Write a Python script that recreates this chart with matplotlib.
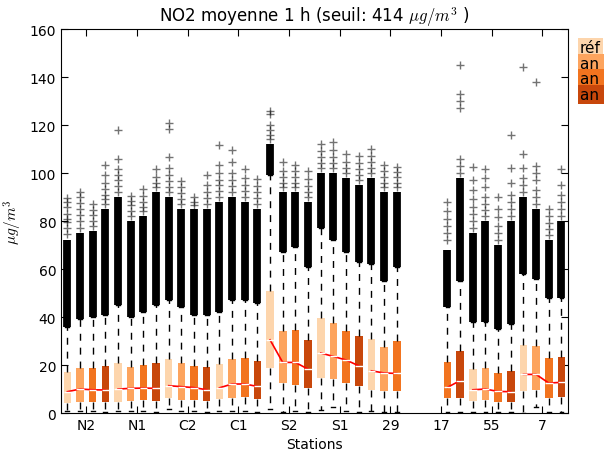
import matplotlib
matplotlib.use("Agg")
import matplotlib.pyplot as plt

plt.rcParams['font.family'] = ['DejaVu Sans']
plt.rcParams['mathtext.fontset'] = 'cm'

stations = ['N2', 'N1', 'C2', 'C1', 'S2', 'S1', '29', '17', '55', '7']
series = ['réf', 'an 1', 'an 2', 'an 3']
colors = ['#fdd5ac', '#fda45e', '#f2741f', '#c8470b']

# box statistics per series (µg/m³), None where no data
q1_ref = [4.2, 4.4, 6.1, 5.8, 18.6, 14.4, 9.7, None, 5.1, 9.0]
q1_an1 = [4.7, 5.0, 5.6, 6.1, 12.4, 14.2, 9.3, None, 5.4, 9.4]
q1_an2 = [4.4, 5.3, 5.4, 6.5, 11.8, 12.4, 9.3, 6.1, 4.7, 6.3]
q1_an3 = [4.7, 5.0, 5.1, 5.8, 10.3, 11.1, None, 6.1, 4.4, 6.5]

med_ref = [8.9, 10.0, 11.4, 10.5, 30.5, 25.0, 17.6, None, 9.7, 16.1]
med_an1 = [10.0, 10.3, 11.0, 12.1, 21.1, 23.6, 16.7, None, 10.0, 16.1]
med_an2 = [9.7, 10.4, 10.6, 12.1, 21.1, 22.1, 16.5, 10.7, 9.0, 12.5]
med_an3 = [9.6, 10.3, 9.7, 11.1, 18.3, 19.7, None, 13.5, 8.9, 12.8]

q3_ref = [17.2, 20.7, 22.4, 20.4, 50.7, 39.4, 30.8, None, 18.2, 28.5]
q3_an1 = [18.6, 19.3, 21.0, 22.4, 34.3, 37.4, 27.4, None, 18.6, 28.1]
q3_an2 = [18.6, 20.0, 19.7, 22.8, 34.6, 34.3, 29.9, 21.1, 16.8, 22.9]
q3_an3 = [19.4, 21.0, 19.3, 21.8, 30.5, 32.0, None, 25.7, 17.5, 23.3]

lo_ref = [1.0, 1.0, 1.5, 1.0, 1.7, 1.4, 1.0, None, 0.5, 0.0]
lo_an1 = [1.0, 1.0, 1.0, 1.0, 0.5, 2.5, 0.5, None, 0.5, 2.4]
lo_an2 = [1.0, 1.0, 1.0, 1.0, 1.0, 1.0, 0.5, 0.5, 0.5, 0.5]
lo_an3 = [0.5, 0.5, 0.5, 0.5, 0.5, 0.5, None, 0.5, 0.5, 0.5]

hi_ref = [36, 45, 47, 42, 99, 77, 62, None, 38, 58]
hi_an1 = [39, 40, 44, 47, 67, 72, 55, None, 38, 56]
hi_an2 = [40, 42, 41, 47, 69, 67, 61, 44, 35, 48]
hi_an3 = [41, 45, 41, 46, 61, 63, None, 55, 37, 48]

# top of the continuous run of outliers above each whisker
dense_ref = [72, 90, 90, 88, 112, 100, 98, None, 75, 90]
dense_an1 = [75, 80, 85, 90, 92, 100, 92, None, 80, 85]
dense_an2 = [76, 82, 85, 88, 92, 98, 92, 68, 70, 72]
dense_an3 = [85, 92, 85, 85, 88, 95, None, 98, 80, 80]

# isolated outliers above the continuous run
out_ref = [[74.5, 77, 79.5, 81, 83, 86, 88, 89.5],
           [92, 94.5, 97, 99, 101.5, 106, 118],
           [92, 94, 96.5, 99, 102, 106.5, 118.5, 121],
           [90, 92.5, 95, 97, 100, 103.5, 111.5],
           [114, 116, 118, 120, 124.5, 126],
           [102, 104, 106.5, 109, 112],
           [100, 102, 104.5, 107, 110],
           [],
           [77, 80, 83, 86, 89, 93, 97, 102.5],
           [92, 95, 98, 102, 108, 144]]
out_an1 = [[77, 80, 82.5, 85, 87.5, 90, 92],
           [82, 84, 86.5, 88.5, 90.5],
           [87, 89, 91.5, 94, 96.5],
           [92, 94.5, 97, 100, 104.5, 109.5],
           [94, 96, 98.5, 101, 104.5],
           [102, 104, 106.5, 109.5, 113],
           [94, 96, 98.5, 101, 103.5],
           [],
           [82, 84.5, 87, 90, 94, 98, 101.5],
           [87, 90, 93, 97, 100, 103, 138]]
out_an2 = [[78, 80, 82.5, 84.5, 87],
           [84, 86, 88, 90.5, 93.5],
           [86.5, 88, 90],
           [90, 92.5, 95, 98, 101.5],
           [94, 96, 98.5, 101, 103.5],
           [100, 102, 104.5, 108],
           [94, 96, 98.5, 100.5, 102.5],
           [72, 75, 78, 81, 84, 88],
           [72, 75, 78, 81.5, 85, 90],
           [74, 76.5, 79, 82, 85]]
out_an3 = [[87, 89, 91, 93.5, 96, 99, 103.5],
           [94, 96, 98.5, 101.5],
           [87, 89.5, 92, 95, 99],
           [87, 89.5, 92, 94.5, 97.5],
           [90, 92, 94.5, 97.5, 101],
           [97, 99, 101.5, 104, 107],
           [],
           [100, 103, 106, 127, 130, 133, 145],
           [82, 85, 88, 91, 96, 102, 116],
           [82, 85, 88, 91, 95, 101.5]]

q1s = [q1_ref, q1_an1, q1_an2, q1_an3]
meds = [med_ref, med_an1, med_an2, med_an3]
q3s = [q3_ref, q3_an1, q3_an2, q3_an3]
los = [lo_ref, lo_an1, lo_an2, lo_an3]
his = [hi_ref, hi_an1, hi_an2, hi_an3]
denses = [dense_ref, dense_an1, dense_an2, dense_an3]
outs = [out_ref, out_an1, out_an2, out_an3]

fig = plt.figure(figsize=(6.04, 4.56), dpi=100)
ax = fig.add_axes([0.101, 0.092, 0.839, 0.842])

nser = len(series)
for s in range(nser):
    stats, pos = [], []
    for i in range(len(stations)):
        if meds[s][i] is None:
            continue
        stats.append(dict(med=meds[s][i], q1=q1s[s][i], q3=q3s[s][i],
                          whislo=los[s][i], whishi=his[s][i],
                          fliers=outs[s][i]))
        pos.append(i * nser + s + 1)
    res = ax.bxp(stats, positions=pos, widths=0.6, patch_artist=True,
                 manage_ticks=False,
                 boxprops=dict(facecolor=colors[s], edgecolor='none', linewidth=0),
                 whiskerprops=dict(color='k', linestyle='--', linewidth=1,
                                   dashes=(5, 5)),
                 capprops=dict(color='k', linewidth=1),
                 medianprops=dict(color='white', linewidth=1, zorder=4),
                 flierprops=dict(marker='+', markeredgecolor='k', alpha=0.55,
                                 markersize=6, markeredgewidth=1, linestyle='none'))
    for i, p in zip([i for i in range(len(stations)) if meds[s][i] is not None], pos):
        ax.vlines(p, his[s][i], denses[s][i], color='k', linewidth=5.6, zorder=3)

# median trend within each station
for i in range(len(stations)):
    xs = [i * nser + s + 1 for s in range(nser) if meds[s][i] is not None]
    ys = [meds[s][i] for s in range(nser) if meds[s][i] is not None]
    ax.plot(xs, ys, color='red', linewidth=1.2, zorder=3.5)

ax.set_xlim(0.5, len(stations) * nser + 0.5)
ax.set_ylim(0, 160)
ax.set_yticks(range(0, 161, 20))
ax.set_xticks([i * nser + 2.5 for i in range(len(stations))])
ax.set_xticklabels(stations)
ax.tick_params(direction='in', top=True, right=True, length=5, labelsize=10)
ax.set_xlabel('Stations', fontsize=10)
ax.set_ylabel(r'$\mu g/m^3$', fontsize=11)
ax.set_title(r'NO2 moyenne 1 h (seuil: 414 $\mu g/m^3$ )', fontsize=12)

# series key at the right edge
for k, (lab, c) in enumerate(zip(series, colors)):
    fig.text(0.960, 0.893 - k * 0.034, lab, fontsize=11, va='center', ha='left',
             bbox=dict(facecolor=c, edgecolor='none', pad=1.5))

fig.savefig('out.png', dpi=100)
